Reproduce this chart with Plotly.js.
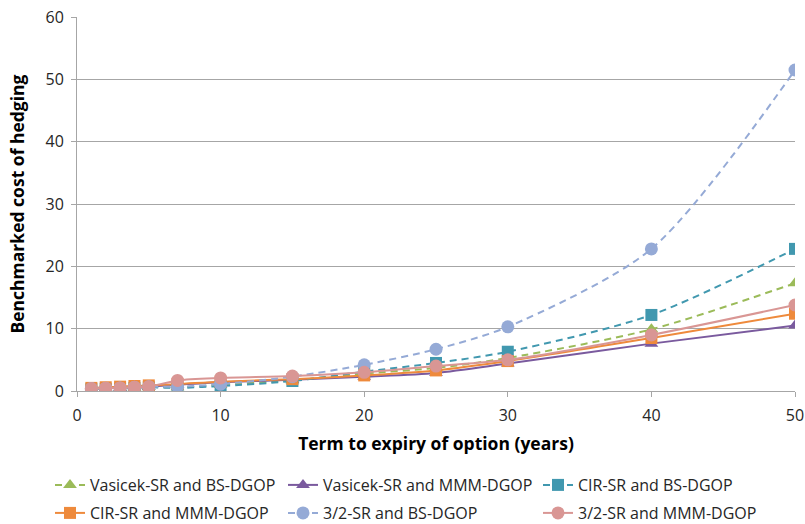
<!DOCTYPE html>
<html>
<head>
<meta charset="utf-8">
<script src="https://cdn.plot.ly/plotly-3.0.1.min.js"></script>
<style>html,body{margin:0;padding:0;background:#fff;}#chart{width:805px;height:524px;}</style>
</head>
<body>
<div id="chart"></div>
<script>
var terms = [1, 2, 3, 4, 5, 7, 10, 15, 20, 25, 30, 40, 50];
var vasicekBS  = [0.4, 0.45, 0.5, 0.6, 0.7, 0.6, 1.0, 1.7, 2.8, 3.7, 5.3, 9.9, 17.3];
var vasicekMMM = [0.4, 0.45, 0.5, 0.6, 0.7, 1.0, 1.4, 1.8, 2.3, 2.9, 4.4, 7.6, 10.5];
var cirBS      = [0.3, 0.35, 0.4, 0.5, 0.6, 0.5, 0.8, 1.6, 3.1, 4.5, 6.3, 12.2, 22.8];
var cirMMM     = [0.5, 0.6, 0.7, 0.8, 0.9, 1.1, 1.5, 1.9, 2.5, 3.3, 4.8, 8.5, 12.4];
var threeHalfBS  = [0.4, 0.45, 0.5, 0.6, 0.7, 0.7, 1.1, 2.3, 4.2, 6.7, 10.3, 22.8, 51.5];
var threeHalfMMM = [0.4, 0.45, 0.5, 0.6, 0.7, 1.7, 2.1, 2.4, 3.0, 4.0, 5.0, 9.0, 13.8];
var seriesNames = ["Vasicek-SR and BS-DGOP", "Vasicek-SR and MMM-DGOP", "CIR-SR and BS-DGOP",
                   "CIR-SR and MMM-DGOP", "3/2-SR and BS-DGOP", "3/2-SR and MMM-DGOP"];
var xTicks = [0, 10, 20, 30, 40, 50];
var yTicks = [0, 10, 20, 30, 40, 50, 60];

var FONT = "'Open Sans', 'Noto Sans', sans-serif";
var styles = [
  {c: "#9BBB59", sym: "triangle-up", dash: "7px,5px", lg: "legend"},
  {c: "#7A5A9E", sym: "triangle-up", dash: "solid", lg: "legend2"},
  {c: "#4198AF", sym: "square", dash: "7px,5px", lg: "legend3"},
  {c: "#EE8A3C", sym: "square", dash: "solid", lg: "legend4"},
  {c: "#95AAD6", sym: "circle", dash: "7px,5px", lg: "legend5"},
  {c: "#D99694", sym: "circle", dash: "solid", lg: "legend6"}
];
var ys = [vasicekBS, vasicekMMM, cirBS, cirMMM, threeHalfBS, threeHalfMMM];
var traces = ys.map(function (y, i) {
  var s = styles[i];
  return {
    x: terms, y: y, name: seriesNames[i], type: "scatter", mode: "lines+markers",
    line: {color: s.c, width: 2, dash: s.dash, shape: "spline", smoothing: 0.8},
    marker: {color: s.c, symbol: s.sym, size: s.sym === "circle" ? 13 : 12, line: {width: 0}},
    legend: s.lg, showlegend: true
  };
});

function lg(xpx, ypx) {
  return {x: (xpx - 77) / 718, y: (391 - ypx) / 374, xanchor: "left", yanchor: "middle",
          orientation: "h", font: {family: FONT, size: 16, color: "#262626"},
          bgcolor: "rgba(0,0,0,0)", itemwidth: 30};
}

var layout = {
  width: 805, height: 524,
  margin: {l: 77, r: 10, t: 17, b: 133, autoexpand: false},
  paper_bgcolor: "#fff", plot_bgcolor: "#fff",
  font: {family: FONT, color: "#262626"},
  xaxis: {
    range: [0, 50], tickvals: xTicks, showgrid: false, zeroline: false,
    showline: true, linecolor: "#A6A6A6", linewidth: 1,
    ticks: "outside", ticklen: 5, tickcolor: "#A6A6A6", ticklabelstandoff: 5,
    tickfont: {family: FONT, size: 16, color: "#262626"},
    title: {text: "Term to expiry of option (years)", font: {family: FONT, size: 17.5, color: "#000", weight: "bold"}, standoff: 12}
  },
  yaxis: {
    range: [0, 60], tickvals: yTicks, showgrid: true, gridcolor: "#A6A6A6", gridwidth: 1, zeroline: false,
    showline: true, linecolor: "#A6A6A6", linewidth: 1,
    ticks: "outside", ticklen: 5, tickcolor: "#A6A6A6", ticklabelstandoff: 4,
    tickfont: {family: FONT, size: 16, color: "#262626"},
    title: {text: "Benchmarked cost of hedging", font: {family: FONT, size: 17.5, color: "#000", weight: "bold"}, standoff: 16}
  },
  legend: lg(50, 485), legend2: lg(283, 485), legend3: lg(538, 485),
  legend4: lg(50, 513), legend5: lg(283, 513), legend6: lg(538, 513)
};

Plotly.newPlot("chart", traces, layout, {staticPlot: true, displayModeBar: false});
</script>
</body>
</html>
